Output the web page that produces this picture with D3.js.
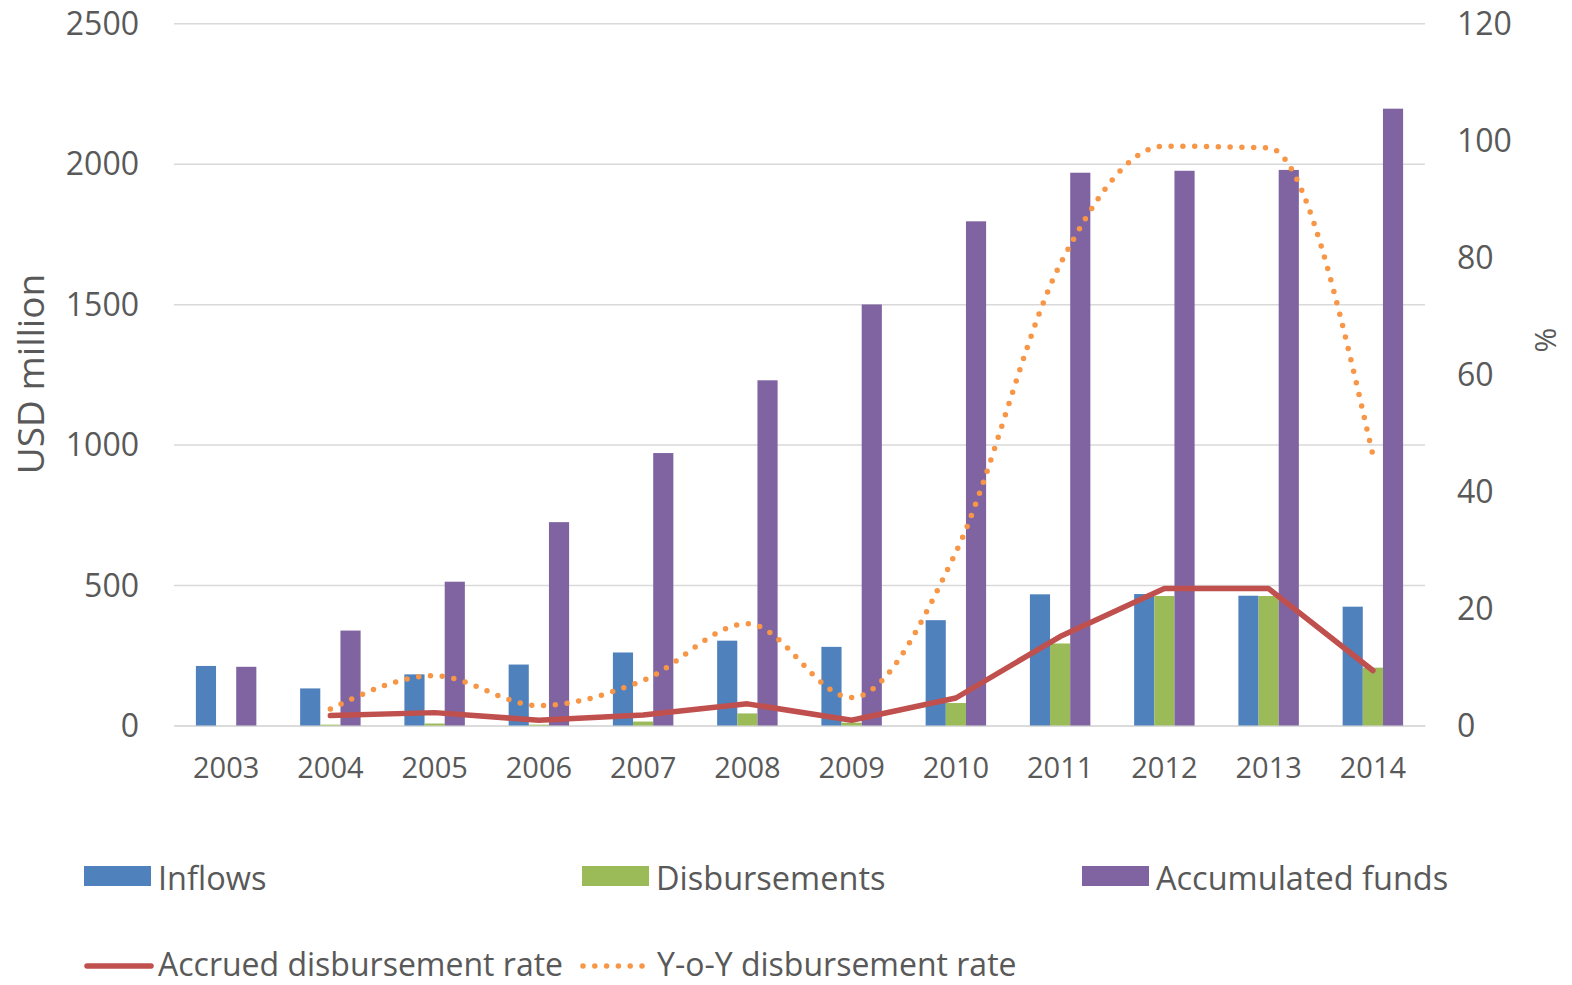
<!DOCTYPE html>
<html><head><meta charset="utf-8">
<script src="https://cdn.jsdelivr.net/npm/d3@7"></script>
<style>
html,body{margin:0;padding:0;background:#fff;}
svg{display:block;}
svg text{font-family:"Open Sans","Noto Sans",sans-serif;}
</style></head>
<body>
<svg id="c" width="1572" height="985"></svg>
<script>
const years = ["2003","2004","2005","2006","2007","2008","2009","2010","2011","2012","2013","2014"];
const inflows = [212,132,182,217,260,302,280,375,467,468,462,423];
const disbursements = [0,3,7,3,14,43,10,80,292,461,461,206];
const accumulated = [209,338,512,724,970,1229,1499,1795,1968,1975,1978,2196];
const accruedRate = [null,1.7,2.2,0.9,1.8,3.7,0.9,4.7,15.2,23.4,23.4,9.4];
const yoyRate = [null,2.8,8.5,3.4,7.7,17.4,4.8,29.6,78.8,99.0,98.7,46.2];
const leftTicks = [0,500,1000,1500,2000,2500];
const rightTicks = [0,20,40,60,80,100,120];
const barSeries = ["Inflows","Disbursements","Accumulated funds"];
const lineSeries = ["Accrued disbursement rate","Y-o-Y disbursement rate"];

const colors = {"Inflows":"#4F81BD","Disbursements":"#9BBB59","Accumulated funds":"#8064A2",
  "Accrued disbursement rate":"#C0504D","Y-o-Y disbursement rate":"#F79646"};
const textColor = "#595959";
const FONT = '"Open Sans","Noto Sans",sans-serif';

const svg = d3.select("#c");
const x0 = 174, x1 = 1425, yBottom = 725.5, yTop = 23.3;

const x = d3.scaleBand().domain(years).range([x0,x1]).paddingInner(0.42).paddingOuter(0.21);
const xs = d3.scaleBand().domain(barSeries).range([0,x.bandwidth()]);
const yL = d3.scaleLinear().domain([0,2500]).range([yBottom,yTop]);
const yR = d3.scaleLinear().domain([0,120]).range([yBottom,yTop]);

// gridlines
const gGrid = svg.append("g").call(d3.axisLeft(yL).tickValues(leftTicks).tickSize(-(x1-x0)).tickFormat(""))
  .attr("transform",`translate(${x0},0)`);
gGrid.select(".domain").remove();
gGrid.selectAll("line").attr("stroke","#D9D9D9").attr("stroke-width",1.5);

// left axis labels
const gL = svg.append("g").attr("transform",`translate(139,0)`)
  .call(d3.axisLeft(yL).tickValues(leftTicks).tickFormat(d3.format("d")).tickSize(0).tickPadding(0));
gL.attr("font-family",FONT);
gL.select(".domain").remove();
gL.selectAll("text").attr("fill",textColor).style("font-size","32px").attr("dy","0.35em");

// right axis labels
const gR = svg.append("g").attr("transform",`translate(1457,0)`)
  .call(d3.axisRight(yR).tickValues(rightTicks).tickFormat(d3.format("d")).tickSize(0).tickPadding(0));
gR.attr("font-family",FONT);
gR.select(".domain").remove();
gR.selectAll("text").attr("fill",textColor).style("font-size","32px").attr("dy","0.35em");

// x axis
const gX = svg.append("g").attr("transform",`translate(0,${yBottom})`)
  .call(d3.axisBottom(x).tickSize(0).tickPadding(28));
gX.attr("font-family",FONT);
gX.select(".domain").attr("stroke","#D9D9D9").attr("stroke-width",1.5);
gX.selectAll("text").attr("fill",textColor).style("font-size","29px").attr("dy","0.35em").attr("y",42);

// bars
const barData = {"Inflows":inflows,"Disbursements":disbursements,"Accumulated funds":accumulated};
barSeries.forEach(s=>{
  svg.append("g").selectAll("rect").data(years).join("rect")
    .attr("x",d=>x(d)+xs(s))
    .attr("width",xs.bandwidth())
    .attr("y",(d,i)=>yL(barData[s][i]))
    .attr("height",(d,i)=>yBottom-yL(barData[s][i]))
    .attr("fill",colors[s]);
});

// lines
const cx = d=>x(d)+x.bandwidth()/2;
const accruedPts = years.map((d,i)=>[d,accruedRate[i]]).filter(p=>p[1]!==null);
const yoyPts = years.map((d,i)=>[d,yoyRate[i]]).filter(p=>p[1]!==null);
svg.append("path").datum(accruedPts)
  .attr("d",d3.line().x(p=>cx(p[0])).y(p=>yR(p[1])))
  .attr("fill","none").attr("stroke",colors["Accrued disbursement rate"]).attr("stroke-width",5.5)
  .attr("stroke-linejoin","round").attr("stroke-linecap","round");
svg.append("path").datum(yoyPts)
  .attr("d",d3.line().curve(d3.curveMonotoneX).x(p=>cx(p[0])).y(p=>yR(p[1])))
  .attr("fill","none").attr("stroke",colors["Y-o-Y disbursement rate"]).attr("stroke-width",5.5)
  .attr("stroke-dasharray","0 11.8").attr("stroke-linecap","round");

// axis titles
svg.append("text").attr("transform","translate(44,374) rotate(-90)").attr("text-anchor","middle")
  .attr("fill",textColor).style("font-size","37px").text("USD million");
svg.append("text").attr("transform","translate(1556,340) rotate(-90)").attr("text-anchor","middle")
  .attr("fill",textColor).style("font-size","30px").text("%");

// legend
const legBars = [{s:"Inflows",x:84,y:876},{s:"Disbursements",x:582,y:876},{s:"Accumulated funds",x:1082,y:876}];
legBars.forEach(l=>{
  svg.append("rect").attr("x",l.x).attr("y",l.y-10).attr("width",67).attr("height",20).attr("fill",colors[l.s]);
  svg.append("text").attr("x",l.x+74).attr("y",l.y+3).attr("dy","0.35em").attr("fill",textColor)
    .style("font-size","32.5px").text(l.s);
});
const legLines = [{s:"Accrued disbursement rate",x:84,y:966,dash:null,tx:158},{s:"Y-o-Y disbursement rate",x:580,y:966,dash:"0 11.8",tx:657}];
legLines.forEach(l=>{
  const ln = svg.append("line").attr("x1",l.x+3).attr("x2",l.x+67).attr("y1",l.y).attr("y2",l.y)
    .attr("stroke",colors[l.s]).attr("stroke-width",5.5).attr("stroke-linecap","round");
  if(l.dash) ln.attr("stroke-dasharray",l.dash);
  svg.append("text").attr("x",l.tx).attr("y",l.y-1).attr("dy","0.35em").attr("fill",textColor)
    .style("font-size","32px").text(l.s);
});
</script>
</body></html>
